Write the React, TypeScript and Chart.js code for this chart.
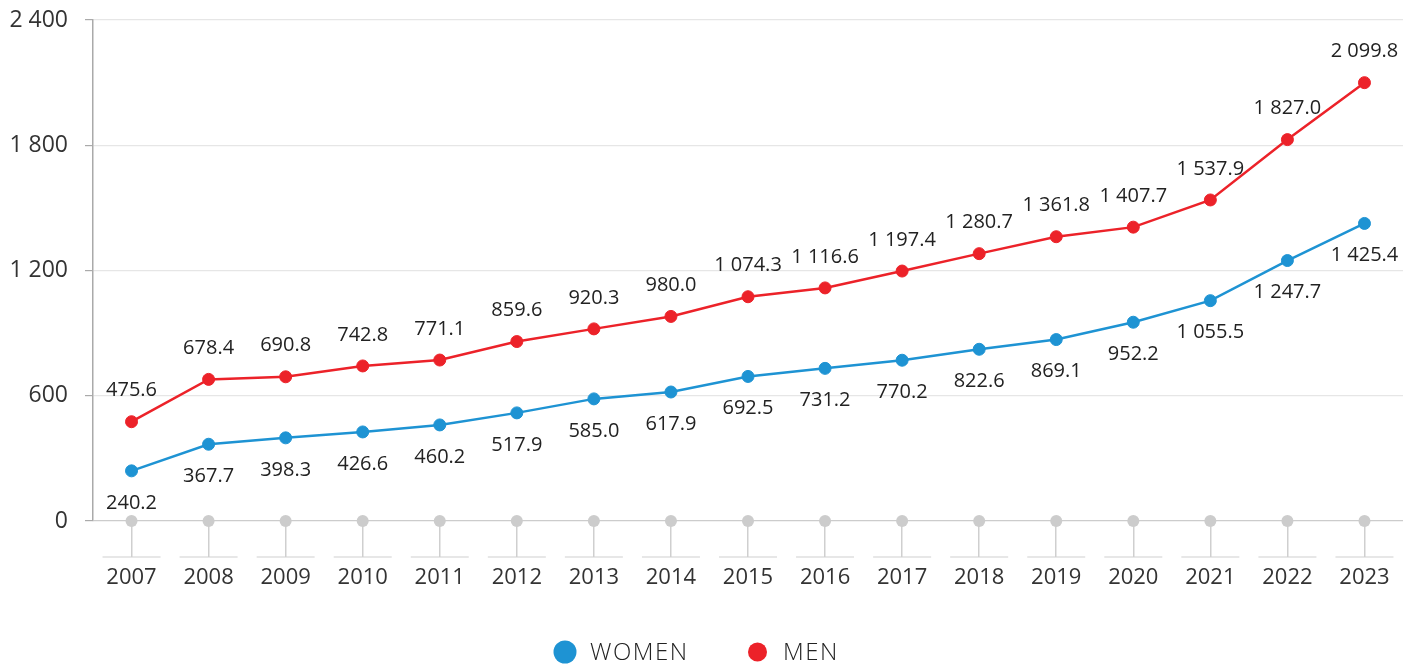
import React, { useEffect, useRef } from 'react';
import { Chart, registerables } from 'chart.js';

Chart.register(...registerables);

const years = ['2007', '2008', '2009', '2010', '2011', '2012', '2013', '2014', '2015', '2016', '2017', '2018', '2019', '2020', '2021', '2022', '2023'];
const women = [240.2, 367.7, 398.3, 426.6, 460.2, 517.9, 585.0, 617.9, 692.5, 731.2, 770.2, 822.6, 869.1, 952.2, 1055.5, 1247.7, 1425.4];
const men = [475.6, 678.4, 690.8, 742.8, 771.1, 859.6, 920.3, 980.0, 1074.3, 1116.6, 1197.4, 1280.7, 1361.8, 1407.7, 1537.9, 1827.0, 2099.8];
const baseline = years.map(() => 0);
const seriesNames = ['WOMEN', 'MEN'];
const yMin = 0;
const yMax = 2400;
const yStep = 600;

const BLUE = '#1e93d3';
const RED = '#ec2229';
const FONT = "'Open Sans', 'Noto Sans', sans-serif";

const fmt = (v: number, decimals: number) => {
  const s = v.toFixed(decimals);
  const [i, d] = s.split('.');
  const ii = i.replace(/\B(?=(\d{3})+(?!\d))/g, ' ');
  return d ? ii + '.' + d : ii;
};

const valueLabels = {
  id: 'valueLabels',
  afterDatasetsDraw(chart: any) {
    const ctx = chart.ctx;
    ctx.save();
    ctx.font = `400 20px ${FONT}`;
    ctx.fillStyle = '#222222';
    ctx.textAlign = 'center';
    ctx.textBaseline = 'middle';
    [0, 1].forEach((di) => {
      const meta = chart.getDatasetMeta(di);
      const data = chart.data.datasets[di].data as number[];
      meta.data.forEach((pt: any, i: number) => {
        const dy = di === 0 ? 32 : -31;
        ctx.fillText(fmt(data[i], 1), pt.x, pt.y + dy);
      });
    });
    ctx.restore();
  },
};

const axisDecor = {
  id: 'axisDecor',
  afterDraw(chart: any) {
    const ctx = chart.ctx;
    const xs = chart.scales.x;
    const y = chart.chartArea.bottom + 36;
    ctx.save();
    ctx.strokeStyle = '#cfcfcf';
    ctx.lineWidth = 1.2;
    years.forEach((_, i) => {
      const x = xs.getPixelForValue(i);
      ctx.beginPath();
      ctx.moveTo(x - 29, y);
      ctx.lineTo(x + 29, y);
      ctx.stroke();
    });
    ctx.restore();
  },
};

const customLegend = {
  id: 'customLegend',
  afterDraw(chart: any) {
    const ctx = chart.ctx;
    const cy = 652;
    const items = [
      { label: seriesNames[0], color: BLUE, cx: 565, r: 11.5, tx: 590 },
      { label: seriesNames[1], color: RED, cx: 757.5, r: 9.5, tx: 783 },
    ];
    ctx.save();
    ctx.font = `300 24px ${FONT}`;
    ctx.textBaseline = 'middle';
    ctx.textAlign = 'left';
    try { (ctx as any).letterSpacing = '1.5px'; } catch (e) {}
    items.forEach((it) => {
      ctx.fillStyle = it.color;
      ctx.beginPath();
      ctx.arc(it.cx, cy, it.r, 0, Math.PI * 2);
      ctx.fill();
      ctx.fillStyle = '#222222';
      ctx.fillText(it.label, it.tx, cy + 1);
    });
    ctx.restore();
  },
};

export default function App() {
  const canvasRef = useRef<HTMLCanvasElement | null>(null);

  useEffect(() => {
    if (!canvasRef.current) return;
    const chart = new Chart(canvasRef.current, {
      type: 'line',
      data: {
        labels: years,
        datasets: [
          {
            label: seriesNames[0],
            data: women,
            borderColor: BLUE,
            backgroundColor: BLUE,
            pointBackgroundColor: BLUE,
            pointBorderColor: BLUE,
            pointRadius: 6,
            pointBorderWidth: 1,
            borderWidth: 2.5,
            tension: 0,
            clip: false as any,
          },
          {
            label: seriesNames[1],
            data: men,
            borderColor: RED,
            backgroundColor: RED,
            pointBackgroundColor: RED,
            pointBorderColor: RED,
            pointRadius: 6,
            pointBorderWidth: 1,
            borderWidth: 2.5,
            tension: 0,
            clip: false as any,
          },
          {
            label: 'base',
            data: baseline,
            showLine: false,
            pointBackgroundColor: '#cccccc',
            pointBorderColor: '#cccccc',
            pointRadius: 6,
            pointBorderWidth: 0,
            clip: false as any,
          },
        ],
      },
      options: {
        animation: false,
        responsive: true,
        maintainAspectRatio: false,
        layout: { padding: { top: 20, right: 11, left: 0, bottom: 0 } },
        plugins: {
          legend: { display: false },
          tooltip: { enabled: false },
        },
        scales: {
          x: {
            type: 'category',
            offset: true,
            afterFit: (s: any) => { s.height = 146; },
            border: { display: false },
            grid: {
              offset: false,
              drawOnChartArea: false,
              drawTicks: true,
              tickLength: 36,
              color: '#cfcfcf',
              tickColor: '#cfcfcf',
              lineWidth: 1.5,
            },
            ticks: {
              autoSkip: false,
              maxRotation: 0,
              padding: 8,
              color: '#333333',
              font: { family: FONT, size: 22, weight: 400 as any },
            },
          },
          y: {
            min: yMin,
            max: yMax,
            afterFit: (s: any) => { s.width = 93; s.paddingTop = 0; s.paddingBottom = 0; },
            border: { display: true, color: '#aaaaaa', width: 1.5 },
            grid: {
              color: (c: any) => (c.tick && c.tick.value === 0 ? '#cccccc' : '#e6e6e6'),
              tickColor: '#aaaaaa',
              tickLength: 8,
              lineWidth: 1.2,
            },
            ticks: {
              stepSize: yStep,
              padding: 17,
              color: '#333333',
              font: { family: FONT, size: 23, weight: 400 as any },
              callback: (v: any) => fmt(Number(v), 0),
            },
          },
        },
      },
      plugins: [valueLabels, axisDecor, customLegend],
    });
    return () => chart.destroy();
  }, []);

  return (
    <div style={{ position: 'fixed', left: 0, top: 0, width: 1414, height: 667 }}>
      <canvas ref={canvasRef} />
    </div>
  );
}
